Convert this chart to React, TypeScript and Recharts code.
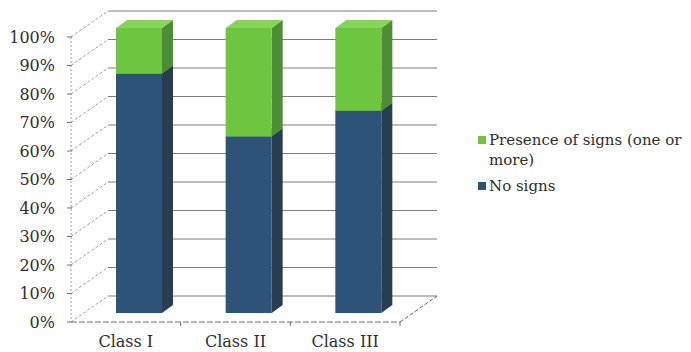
import React from 'react';
import { BarChart, Bar, XAxis, YAxis, CartesianGrid, Legend } from 'recharts';

// ---- data ----
const categories = ['Class I', 'Class II', 'Class III'];
const noSigns = [84, 62, 71];
const presenceOfSigns = [16, 38, 29];
const yTicks = [0, 10, 20, 30, 40, 50, 60, 70, 80, 90, 100];
const seriesNoSigns = 'No signs';
const seriesPresence = 'Presence of signs (one or more)';

const data = categories.map((category, i) => ({
  category,
  noSigns: noSigns[i],
  presence: presenceOfSigns[i],
}));

// ---- look ----
const FONT = '"DejaVu Serif", "Liberation Serif", serif';
const TEXT = '#2e2e2e';

const BLUE = { face: '#2d5378', side: '#283d4f', top: '#3b6890' };
const GREEN = { face: '#6dc540', side: '#4e8d37', top: '#84d657' };

// Offsets of the 3-D frame planes relative to the plane of the bars' front faces
const FRONT = { dx: -13, dy: 9 };
const BACK = { dx: 24, dy: -17 };
// Depth of each box
const BAR_DEPTH = { dx: 11, dy: 8 };

type Palette = { face: string; side: string; top: string };

function Box3D(props: any) {
  const { x, y, width, height, palette } = props as {
    x: number; y: number; width: number; height: number; palette: Palette;
  };
  if (!width || height == null || height <= 0) return null;
  const { dx, dy } = BAR_DEPTH;
  const r = x + width;
  const b = y + height;
  return (
    <g>
      <polygon
        points={`${r},${y} ${r + dx},${y - dy} ${r + dx},${b - dy} ${r},${b}`}
        fill={palette.side}
      />
      <polygon
        points={`${x},${y} ${x + dx},${y - dy} ${r + dx},${y - dy} ${r},${y}`}
        fill={palette.top}
      />
      <rect x={x} y={y} width={width} height={height} fill={palette.face} />
    </g>
  );
}

// Each horizontal grid value draws the back-wall line, the side-wall diagonal
// and the front-axis tick; the floor and front axis are added at the ends.
function WallLine(props: any) {
  const { x1, x2, y1, horizontalPoints, y, height } = props;
  const pts: number[] = Array.isArray(horizontalPoints) ? horizontalPoints : [];
  const top = pts.length ? Math.min(...pts) : y;
  const bottom = pts.length ? Math.max(...pts) : y + height;
  const fx = x1 + FRONT.dx;
  const fy = y1 + FRONT.dy;
  const bx1 = x1 + BACK.dx;
  const bx2 = x2 + BACK.dx;
  const by = y1 + BACK.dy;
  const isFloor = Math.abs(y1 - bottom) < 0.5;
  const isTop = Math.abs(y1 - top) < 0.5;
  return (
    <g>
      <line x1={bx1} y1={by} x2={bx2} y2={by} stroke="#7c7c7c" strokeWidth={1} />
      <line x1={fx} y1={fy} x2={bx1} y2={by} stroke="#a0a0a0" strokeDasharray="3 2" />
      <line x1={fx - 4} y1={fy} x2={fx + 1} y2={fy} stroke="#707070" />
      {isTop && (
        <line x1={fx} y1={fy} x2={fx} y2={bottom + FRONT.dy} stroke="#999" strokeDasharray="2 2" />
      )}
      {isFloor && (
        <>
          <line x1={fx} y1={fy} x2={x2 + FRONT.dx} y2={fy} stroke="#707070" strokeDasharray="6 2" />
          <line x1={x2 + FRONT.dx} y1={fy} x2={bx2} y2={by} stroke="#606060" strokeDasharray="4 2" />
        </>
      )}
    </g>
  );
}

function YTick(props: any) {
  const { x, y, payload } = props;
  return (
    <text
      x={x + FRONT.dx - 16}
      y={y + FRONT.dy}
      textAnchor="end"
      dominantBaseline="central"
      fontFamily={FONT}
      fontSize={16}
      fill={TEXT}
    >
      {`${payload.value}%`}
    </text>
  );
}

function XTick(props: any) {
  const { x, y, payload, width, visibleTicksCount } = props;
  const band = width && visibleTicksCount ? width / visibleTicksCount : 0;
  const edge = x + band / 2 + FRONT.dx;
  return (
    <g>
      <text
        x={x + FRONT.dx}
        y={y + 34}
        textAnchor="middle"
        fontFamily={FONT}
        fontSize={16}
        fill={TEXT}
      >
        {payload.value}
      </text>
      {band > 0 && (
        <line x1={edge} y1={y + FRONT.dy} x2={edge} y2={y + FRONT.dy + 4} stroke="#707070" />
      )}
    </g>
  );
}

function LegendBox(props: any) {
  const items = [...(props.payload ?? [])].reverse();
  return (
    <div style={{ fontFamily: FONT, fontSize: 15, lineHeight: '20px', color: TEXT }}>
      {items.map((it: any) => (
        <div key={it.value} style={{ position: 'relative', paddingLeft: 11, marginBottom: 6, width: 205 }}>
          <span
            style={{
              position: 'absolute',
              left: 0,
              top: 6,
              width: 8,
              height: 8,
              background: it.color,
            }}
          />
          {it.value}
        </div>
      ))}
    </div>
  );
}

export default function App() {
  return (
    <BarChart
      width={683}
      height={344}
      data={data}
      margin={{ top: 20, right: 278, bottom: 0, left: 0 }}
      barSize={46}
    >
      <CartesianGrid horizontal={(p: any) => <WallLine {...p} />} vertical={false} />
      <XAxis
        dataKey="category"
        height={39}
        tickSize={0}
        tickMargin={0}
        axisLine={false}
        tickLine={false}
        interval={0}
        tick={(p: any) => <XTick {...p} />}
      />
      <YAxis
        type="number"
        domain={[0, 100]}
        ticks={yTicks}
        interval={0}
        width={76}
        tickSize={0}
        tickMargin={0}
        axisLine={false}
        tickLine={false}
        tick={(p: any) => <YTick {...p} />}
      />
      <Legend
        layout="vertical"
        align="center"
        verticalAlign="middle"
        content={(p: any) => <LegendBox payload={p.payload} />}
        wrapperStyle={{ position: 'absolute', left: 470, top: 122, width: 213, overflow: 'hidden' }}
      />
      <Bar
        dataKey="noSigns"
        name={seriesNoSigns}
        stackId="share"
        fill={BLUE.face}
        isAnimationActive={false}
        shape={(p: any) => <Box3D {...p} palette={BLUE} />}
      />
      <Bar
        dataKey="presence"
        name={seriesPresence}
        stackId="share"
        fill={GREEN.face}
        isAnimationActive={false}
        shape={(p: any) => <Box3D {...p} palette={GREEN} />}
      />
    </BarChart>
  );
}
